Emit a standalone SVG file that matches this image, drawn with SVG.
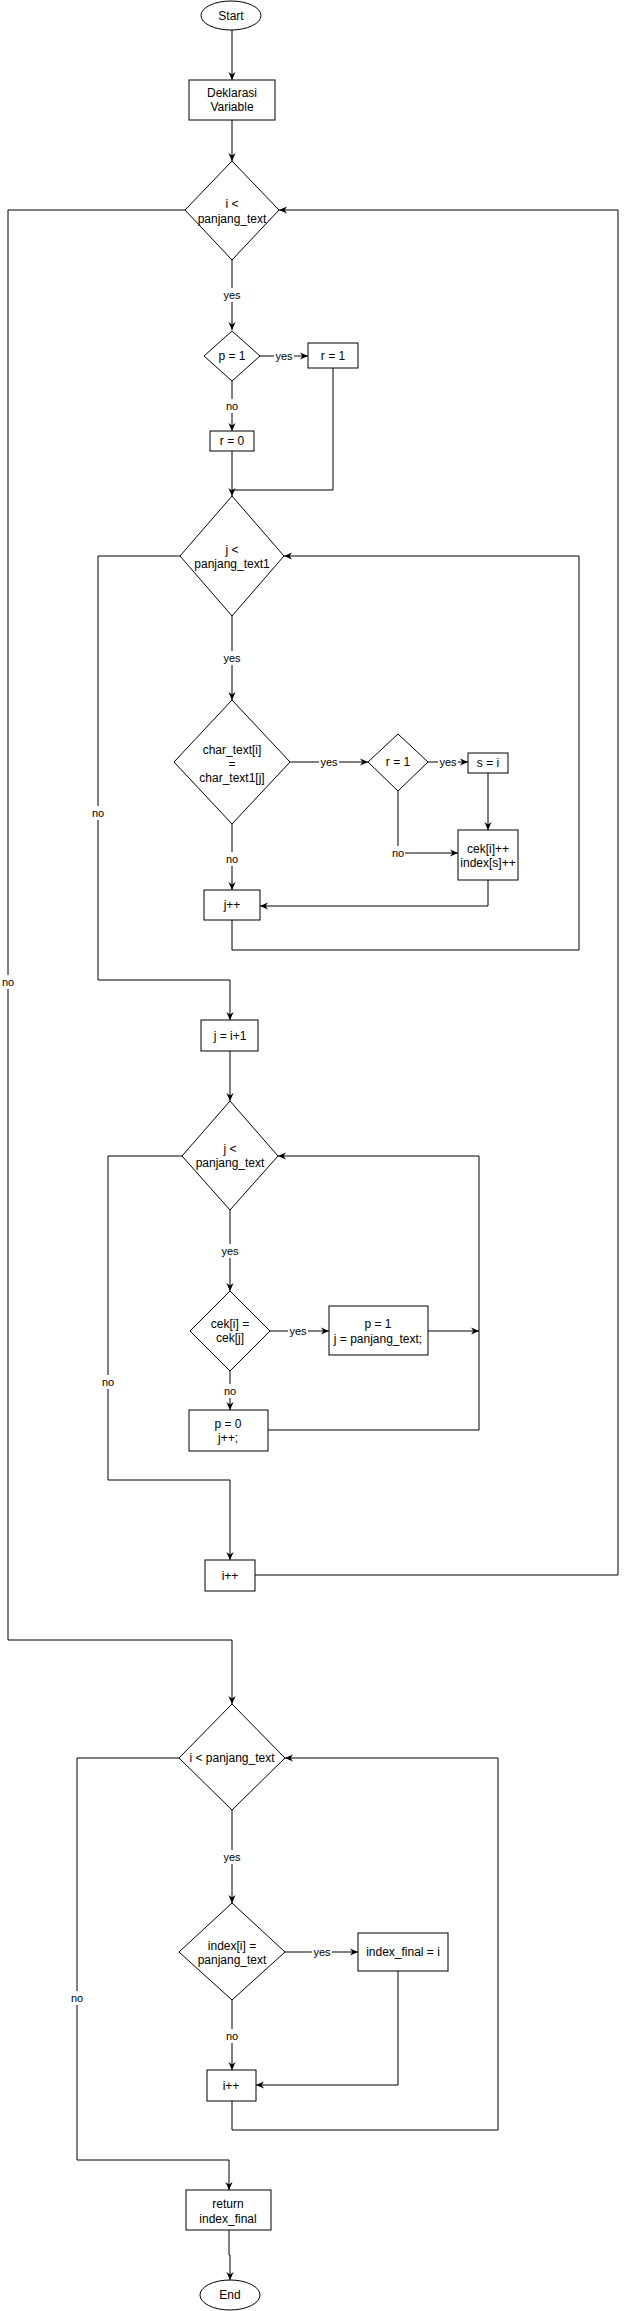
<svg xmlns="http://www.w3.org/2000/svg" width="626" height="2311" viewBox="0 0 626 2311">
<style>
.n{fill:#fff;stroke:#000;stroke-width:1}
.t{font-family:"Liberation Sans",Arial,sans-serif;font-size:12px;fill:#000;text-anchor:middle}
.c{fill:none;stroke:#000;stroke-width:1}
.l{font-family:"Liberation Sans",Arial,sans-serif;font-size:11px;fill:#000;text-anchor:middle}
.lb{fill:#fff}
</style>
<defs>
<marker id="a" viewBox="0 0 10 10" refX="10" refY="5" markerWidth="8" markerHeight="8" markerUnits="userSpaceOnUse" orient="auto">
<path d="M0,0.5 L10,5 L0,9.5 L3,5 Z" fill="#000"/>
</marker>
</defs>
<rect width="626" height="2311" fill="#fff"/>
<g id="connectors">
<path class="c" d="M232,30 V80" marker-end="url(#a)"/>
<path class="c" d="M232,120 V161" marker-end="url(#a)"/>
<path class="c" d="M232,260 V330" marker-end="url(#a)"/>
<path class="c" d="M260,356 H308" marker-end="url(#a)"/>
<path class="c" d="M232,381 V431" marker-end="url(#a)"/>
<path class="c" d="M333,368 V490 H232"/>
<path class="c" d="M232,451 V496" marker-end="url(#a)"/>
<path class="c" d="M232,616 V700" marker-end="url(#a)"/>
<path class="c" d="M290,762 H368" marker-end="url(#a)"/>
<path class="c" d="M428,762 H468" marker-end="url(#a)"/>
<path class="c" d="M488,773 V830" marker-end="url(#a)"/>
<path class="c" d="M398,791 V853 H458" marker-end="url(#a)"/>
<path class="c" d="M232,824 V890" marker-end="url(#a)"/>
<path class="c" d="M488,880 V906 H260" marker-end="url(#a)"/>
<path class="c" d="M232,920 V950 H579 V556 H284" marker-end="url(#a)"/>
<path class="c" d="M180,556 H98 V980 H230 V1020" marker-end="url(#a)"/>
<path class="c" d="M230,1051 V1101" marker-end="url(#a)"/>
<path class="c" d="M230,1210 V1291" marker-end="url(#a)"/>
<path class="c" d="M270,1331 H329" marker-end="url(#a)"/>
<path class="c" d="M428,1331 H479" marker-end="url(#a)"/>
<path class="c" d="M230,1371 V1410" marker-end="url(#a)"/>
<path class="c" d="M268,1430 H479 V1156 H278" marker-end="url(#a)"/>
<path class="c" d="M182,1156 H108 V1480 H230 V1560" marker-end="url(#a)"/>
<path class="c" d="M255,1575 H618 V210 H279" marker-end="url(#a)"/>
<path class="c" d="M185,210 H8 V1640 H232 V1704" marker-end="url(#a)"/>
<path class="c" d="M232,1810 V1903" marker-end="url(#a)"/>
<path class="c" d="M285,1952 H358" marker-end="url(#a)"/>
<path class="c" d="M398,1971 V2085 H256" marker-end="url(#a)"/>
<path class="c" d="M232,2000 V2070" marker-end="url(#a)"/>
<path class="c" d="M232,2101 V2130 H498 V1758 H285" marker-end="url(#a)"/>
<path class="c" d="M179,1758 H77 V2160 H229 V2190" marker-end="url(#a)"/>
<path class="c" d="M229,2230 V2255 H230 V2280" marker-end="url(#a)"/>
<g id="labels">
<rect class="lb" x="222" y="288" width="20" height="14"/><text class="l" x="232" y="299">yes</text>
<rect class="lb" x="274" y="349" width="20" height="14"/><text class="l" x="284" y="360">yes</text>
<rect class="lb" x="225" y="399" width="14" height="14"/><text class="l" x="232" y="410">no</text>
<rect class="lb" x="222" y="651" width="20" height="14"/><text class="l" x="232" y="662">yes</text>
<rect class="lb" x="319" y="755" width="20" height="14"/><text class="l" x="329" y="766">yes</text>
<rect class="lb" x="438" y="755" width="20" height="14"/><text class="l" x="448" y="766">yes</text>
<rect class="lb" x="391" y="846" width="14" height="14"/><text class="l" x="398" y="857">no</text>
<rect class="lb" x="225" y="852" width="14" height="14"/><text class="l" x="232" y="863">no</text>
<rect class="lb" x="91" y="806" width="14" height="14"/><text class="l" x="98" y="817">no</text>
<rect class="lb" x="220" y="1244" width="20" height="14"/><text class="l" x="230" y="1255">yes</text>
<rect class="lb" x="288" y="1324" width="20" height="14"/><text class="l" x="298" y="1335">yes</text>
<rect class="lb" x="223" y="1384" width="14" height="14"/><text class="l" x="230" y="1395">no</text>
<rect class="lb" x="101" y="1375" width="14" height="14"/><text class="l" x="108" y="1386">no</text>
<rect class="lb" x="1" y="975" width="14" height="14"/><text class="l" x="8" y="986">no</text>
<rect class="lb" x="222" y="1850" width="20" height="14"/><text class="l" x="232" y="1861">yes</text>
<rect class="lb" x="312" y="1945" width="20" height="14"/><text class="l" x="322" y="1956">yes</text>
<rect class="lb" x="225" y="2029" width="14" height="14"/><text class="l" x="232" y="2040">no</text>
<rect class="lb" x="70" y="1991" width="14" height="14"/><text class="l" x="77" y="2002">no</text>
</g>
</g>
<g id="start"><ellipse class="n" cx="231" cy="15.5" rx="30" ry="14.5"/><text class="t" x="231" y="20">Start</text></g>
<g id="deklarasi"><rect class="n" x="189" y="80" width="86" height="40"/><text class="t" x="232" y="97">Deklarasi</text><text class="t" x="232" y="111">Variable</text></g>
<g id="d1"><polygon class="n" points="232,161 279,210 232,260 185,210"/><text class="t" x="232" y="208">i &lt;</text><text class="t" x="232" y="223">panjang_text</text></g>
<g id="p1"><polygon class="n" points="232,331 260,356 232,381 204,356"/><text class="t" x="232" y="360">p = 1</text></g>
<g id="r1box"><rect class="n" x="308" y="343" width="50" height="25"/><text class="t" x="333" y="360">r = 1</text></g>
<g id="r0box"><rect class="n" x="210" y="431" width="44" height="20"/><text class="t" x="232" y="445">r = 0</text></g>
<g id="d2"><polygon class="n" points="232,496 284,556 232,616 180,556"/><text class="t" x="232" y="554">j &lt;</text><text class="t" x="232" y="568">panjang_text1</text></g>
<g id="charcmp"><polygon class="n" points="232,700 290,762 232,824 174,762"/><text class="t" x="232" y="754">char_text[i]</text><text class="t" x="232" y="768">=</text><text class="t" x="232" y="782">char_text1[j]</text></g>
<g id="r1d"><polygon class="n" points="398,734 428,762 398,791 368,762"/><text class="t" x="398" y="766">r = 1</text></g>
<g id="sbox"><rect class="n" x="468" y="753" width="40" height="20"/><text class="t" x="488" y="767">s = i</text></g>
<g id="cekbox"><rect class="n" x="458" y="830" width="60" height="50"/><text class="t" x="488" y="853">cek[i]++</text><text class="t" x="488" y="867">index[s]++</text></g>
<g id="jpp"><rect class="n" x="204" y="890" width="56" height="30"/><text class="t" x="232" y="909">j++</text></g>
<g id="jinit"><rect class="n" x="201" y="1020" width="57" height="31"/><text class="t" x="230" y="1040">j = i+1</text></g>
<g id="d3"><polygon class="n" points="230,1101 278,1156 230,1210 182,1156"/><text class="t" x="230" y="1153">j &lt;</text><text class="t" x="230" y="1167">panjang_text</text></g>
<g id="cekd"><polygon class="n" points="230,1291 270,1331 230,1371 190,1331"/><text class="t" x="230" y="1328">cek[i] =</text><text class="t" x="230" y="1342">cek[j]</text></g>
<g id="p1box"><rect class="n" x="329" y="1306" width="99" height="49"/><text class="t" x="378" y="1328">p = 1</text><text class="t" x="378" y="1343">j = panjang_text;</text></g>
<g id="p0box"><rect class="n" x="189" y="1410" width="79" height="41"/><text class="t" x="228" y="1428">p = 0</text><text class="t" x="228" y="1442">j++;</text></g>
<g id="ipp1"><rect class="n" x="205" y="1560" width="50" height="31"/><text class="t" x="230" y="1580">i++</text></g>
<g id="d4"><polygon class="n" points="232,1704 285,1758 232,1810 179,1758"/><text class="t" x="232" y="1762">i &lt; panjang_text</text></g>
<g id="indexd"><polygon class="n" points="232,1903 285,1952 232,2000 179,1952"/><text class="t" x="232" y="1950">index[i] =</text><text class="t" x="232" y="1964">panjang_text</text></g>
<g id="ifinal"><rect class="n" x="358" y="1933" width="90" height="38"/><text class="t" x="403" y="1956">index_final = i</text></g>
<g id="ipp2"><rect class="n" x="207" y="2070" width="49" height="31"/><text class="t" x="231" y="2090">i++</text></g>
<g id="ret"><rect class="n" x="186" y="2190" width="85" height="40"/><text class="t" x="228" y="2208">return</text><text class="t" x="228" y="2223">index_final</text></g>
<g id="end"><ellipse class="n" cx="230" cy="2295" rx="30" ry="15"/><text class="t" x="230" y="2299">End</text></g>
</svg>
